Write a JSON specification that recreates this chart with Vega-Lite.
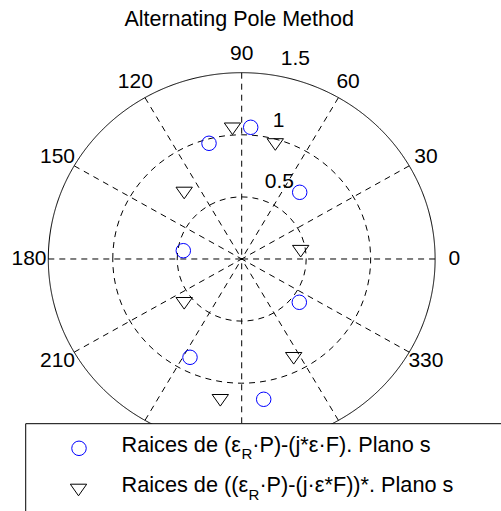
{
  "$schema": "https://vega.github.io/schema/vega-lite/v6.json",
  "width": 501,
  "height": 511,
  "autosize": {"type": "none"},
  "padding": 0,
  "background": "white",
  "config": {"view": {"stroke": null}, "font": "Liberation Sans"},
  "datasets": {
    "roots": [
      {"series": "Raices de (εR·P)-(j*ε·F)", "re": 0.0698, "im": 1.0604},
      {"series": "Raices de (εR·P)-(j*ε·F)", "re": -0.2536, "im": 0.9316},
      {"series": "Raices de (εR·P)-(j*ε·F)", "re": 0.4499, "im": 0.537},
      {"series": "Raices de (εR·P)-(j*ε·F)", "re": -0.453, "im": 0.0668},
      {"series": "Raices de (εR·P)-(j*ε·F)", "re": 0.4468, "im": -0.3486},
      {"series": "Raices de (εR·P)-(j*ε·F)", "re": -0.401, "im": -0.7915},
      {"series": "Raices de (εR·P)-(j*ε·F)", "re": 0.1706, "im": -1.1296},
      {"series": "Raices de ((εR·P)-(j·ε*F))*", "re": -0.0714, "im": 1.0483},
      {"series": "Raices de ((εR·P)-(j·ε*F))*", "re": 0.2606, "im": 0.9219},
      {"series": "Raices de ((εR·P)-(j·ε*F))*", "re": -0.446, "im": 0.5314},
      {"series": "Raices de ((εR·P)-(j·ε*F))*", "re": 0.4576, "im": 0.0628},
      {"series": "Raices de ((εR·P)-(j·ε*F))*", "re": -0.446, "im": -0.3567},
      {"series": "Raices de ((εR·P)-(j·ε*F))*", "re": 0.4033, "im": -0.7995},
      {"series": "Raices de ((εR·P)-(j·ε*F))*", "re": -0.166, "im": -1.1377}
    ],
    "rings": [
      {"r": 0.5, "ring": "grid"},
      {"r": 1.0, "ring": "grid"},
      {"r": 1.5, "ring": "outer"}
    ],
    "spokes": [
      {"deg": "0", "re": 1.5, "im": 0, "lre": 1.65, "lim": 0},
      {"deg": "30", "re": 1.299, "im": 0.75, "lre": 1.4289, "lim": 0.825},
      {"deg": "60", "re": 0.75, "im": 1.299, "lre": 0.825, "lim": 1.4289},
      {"deg": "90", "re": 0, "im": 1.5, "lre": 0, "lim": 1.65},
      {"deg": "120", "re": -0.75, "im": 1.299, "lre": -0.825, "lim": 1.4289},
      {"deg": "150", "re": -1.299, "im": 0.75, "lre": -1.4289, "lim": 0.825},
      {"deg": "180", "re": -1.5, "im": 0, "lre": -1.65, "lim": 0},
      {"deg": "210", "re": -1.299, "im": -0.75, "lre": -1.4289, "lim": -0.825},
      {"deg": "240", "re": -0.75, "im": -1.299, "lre": -0.825, "lim": -1.4289},
      {"deg": "270", "re": 0, "im": -1.5, "lre": 0, "lim": -1.65},
      {"deg": "300", "re": 0.75, "im": -1.299, "lre": 0.825, "lim": -1.4289},
      {"deg": "330", "re": 1.299, "im": -0.75, "lre": 1.4289, "lim": -0.825}
    ],
    "rlabels": [
      {"label": "0.5", "re": 0.1792, "im": 0.5741},
      {"label": "1", "re": 0.2404, "im": 1.0652},
      {"label": "1.5", "re": 0.3025, "im": 1.562}
    ]
  },
  "layer": [
    {
      "data": {"name": "rings"},
      "mark": {"type": "point", "shape": "M-1,0A1,0.9633 0 1,1 1,0A1,0.9633 0 1,1 -1,0Z", "filled": false, "stroke": "black", "strokeWidth": 1, "opacity": 1},
      "encoding": {
        "x": {"datum": 0, "type": "quantitative", "scale": {"domain": [-1.8747, 2.0112], "nice": false, "zero": false}, "axis": null},
        "y": {"datum": 0, "type": "quantitative", "scale": {"domain": [-2.029, 2.0853], "nice": false, "zero": false}, "axis": null},
        "size": {"field": "r", "type": "quantitative", "scale": {"type": "pow", "exponent": 2, "domain": [0, 1.5], "range": [0, 149614]}, "legend": null},
        "strokeDash": {"field": "ring", "type": "nominal", "scale": {"domain": ["grid", "outer"], "range": [[6, 5], [1, 0]]}, "legend": null}
      }
    },
    {
      "data": {"name": "spokes"},
      "mark": {"type": "rule", "stroke": "black", "strokeWidth": 1, "strokeDash": [6, 5]},
      "encoding": {
        "x": {"field": "re", "type": "quantitative", "scale": {"domain": [-1.8747, 2.0112], "nice": false, "zero": false}, "axis": null},
        "y": {"field": "im", "type": "quantitative", "scale": {"domain": [-2.029, 2.0853], "nice": false, "zero": false}, "axis": null},
        "x2": {"datum": 0},
        "y2": {"datum": 0}
      }
    },
    {
      "data": {"name": "spokes"},
      "transform": [{"filter": {"not": {"field": "deg", "oneOf": ["240", "270", "300"]}}}],
      "mark": {"type": "text", "fontSize": 21, "align": "center", "baseline": "middle", "color": "black"},
      "encoding": {
        "x": {"field": "lre", "type": "quantitative", "scale": {"domain": [-1.8747, 2.0112], "nice": false, "zero": false}, "axis": null},
        "y": {"field": "lim", "type": "quantitative", "scale": {"domain": [-2.029, 2.0853], "nice": false, "zero": false}, "axis": null},
        "text": {"field": "deg", "type": "nominal"}
      }
    },
    {
      "data": {"name": "rlabels"},
      "mark": {"type": "text", "fontSize": 21, "align": "left", "baseline": "alphabetic", "color": "black"},
      "encoding": {
        "x": {"field": "re", "type": "quantitative", "scale": {"domain": [-1.8747, 2.0112], "nice": false, "zero": false}, "axis": null},
        "y": {"field": "im", "type": "quantitative", "scale": {"domain": [-2.029, 2.0853], "nice": false, "zero": false}, "axis": null},
        "text": {"field": "label", "type": "nominal"}
      }
    },
    {
      "data": {"name": "roots"},
      "mark": {"type": "point", "filled": false, "size": 210, "strokeWidth": 1, "opacity": 1},
      "encoding": {
        "x": {"field": "re", "type": "quantitative", "scale": {"domain": [-1.8747, 2.0112], "nice": false, "zero": false}, "axis": null},
        "y": {"field": "im", "type": "quantitative", "scale": {"domain": [-2.029, 2.0853], "nice": false, "zero": false}, "axis": null},
        "shape": {"field": "series", "type": "nominal", "scale": {"domain": ["Raices de (εR·P)-(j*ε·F)", "Raices de ((εR·P)-(j·ε*F))*"], "range": ["circle", "M-1.13,-0.8L1.13,-0.8L0,0.8Z"]}, "legend": null},
        "color": {"field": "series", "type": "nominal", "scale": {"domain": ["Raices de (εR·P)-(j*ε·F)", "Raices de ((εR·P)-(j·ε*F))*"], "range": ["#0000ff", "#000000"]}, "legend": null}
      }
    },
    {
      "data": {"values": [{}]},
      "mark": {"type": "rect", "fill": "white", "stroke": "black", "strokeWidth": 1},
      "encoding": {
        "x": {"datum": -1.6753, "type": "quantitative"},
        "x2": {"datum": 2.3},
        "y": {"datum": -1.3261, "type": "quantitative"},
        "y2": {"datum": -2.3}
      }
    },
    {
      "data": {"values": [{}]},
      "mark": {"type": "point", "shape": "circle", "filled": false, "size": 210, "stroke": "#0000ff", "strokeWidth": 1, "opacity": 1},
      "encoding": {
        "x": {"datum": -1.2619, "type": "quantitative"},
        "y": {"datum": -1.5242, "type": "quantitative"}
      }
    },
    {
      "data": {"values": [{}]},
      "mark": {"type": "point", "shape": "M-1.13,-0.8L1.13,-0.8L0,0.8Z", "filled": false, "size": 210, "stroke": "#000000", "strokeWidth": 1, "opacity": 1},
      "encoding": {
        "x": {"datum": -1.2658, "type": "quantitative"},
        "y": {"datum": -1.8599, "type": "quantitative"}
      }
    },
    {
      "data": {"values": [{}]},
      "mark": {"type": "text", "text": "Raices de (ε", "fontSize": 21.7, "align": "left", "baseline": "alphabetic", "color": "black"},
      "encoding": {"x": {"datum": -0.9323, "type": "quantitative"}, "y": {"datum": -1.5515, "type": "quantitative"}}
    },
    {
      "data": {"values": [{}]},
      "mark": {"type": "text", "text": "R", "fontSize": 15, "align": "left", "baseline": "alphabetic", "color": "black"},
      "encoding": {"x": {"datum": -0.0023, "type": "quantitative"}, "y": {"datum": -1.6127, "type": "quantitative"}}
    },
    {
      "data": {"values": [{}]},
      "mark": {"type": "text", "text": "·P)-(j*ε·F). Plano s", "fontSize": 21.7, "align": "left", "baseline": "alphabetic", "color": "black"},
      "encoding": {"x": {"datum": 0.0814, "type": "quantitative"}, "y": {"datum": -1.5515, "type": "quantitative"}}
    },
    {
      "data": {"values": [{}]},
      "mark": {"type": "text", "text": "Raices de ((ε", "fontSize": 21.7, "align": "left", "baseline": "alphabetic", "color": "black"},
      "encoding": {"x": {"datum": -0.9323, "type": "quantitative"}, "y": {"datum": -1.8736, "type": "quantitative"}}
    },
    {
      "data": {"values": [{}]},
      "mark": {"type": "text", "text": "R", "fontSize": 15, "align": "left", "baseline": "alphabetic", "color": "black"},
      "encoding": {"x": {"datum": 0.0535, "type": "quantitative"}, "y": {"datum": -1.9404, "type": "quantitative"}}
    },
    {
      "data": {"values": [{}]},
      "mark": {"type": "text", "text": "·P)-(j·ε*F))*. Plano s", "fontSize": 21.7, "align": "left", "baseline": "alphabetic", "color": "black"},
      "encoding": {"x": {"datum": 0.1373, "type": "quantitative"}, "y": {"datum": -1.8736, "type": "quantitative"}}
    },
    {
      "data": {"values": [{}]},
      "mark": {"type": "text", "text": "Alternating Pole Method", "fontSize": 21.5, "align": "center", "baseline": "alphabetic", "color": "black"},
      "encoding": {"x": {"datum": -0.02, "type": "quantitative"}, "y": {"datum": 1.872, "type": "quantitative"}}
    }
  ]
}
